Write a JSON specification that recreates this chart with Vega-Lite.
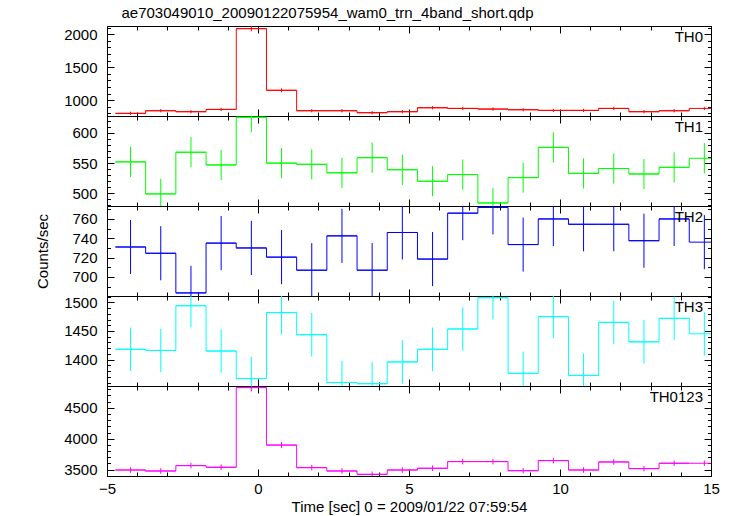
{
  "$schema": "https://vega.github.io/schema/vega-lite/v6.json",
  "padding": {"left": 34, "top": 6, "right": 5, "bottom": 5},
  "background": "white",
  "title": {"text": "ae703049010_20090122075954_wam0_trn_4band_short.qdp", "anchor": "start", "fontSize": 15, "fontWeight": "normal", "font": "Liberation Sans", "color": "black", "offset": 4, "dx": 87},
  "datasets": {
    "lc": [
      {"t0": -4.72, "t1": -3.72, "t": -4.22, "TH0": 800, "TH0_err": 25, "TH1": 552, "TH1_err": 25, "TH2": 731, "TH2_err": 28, "TH3": 1418, "TH3_err": 38, "TH0123": 3494, "TH0123_err": 45},
      {"t0": -3.72, "t1": -2.72, "t": -3.22, "TH0": 840, "TH0_err": 25, "TH1": 499, "TH1_err": 25, "TH2": 724.5, "TH2_err": 28, "TH3": 1416, "TH3_err": 38, "TH0123": 3478, "TH0123_err": 45},
      {"t0": -2.72, "t1": -1.72, "t": -2.22, "TH0": 825, "TH0_err": 25, "TH1": 568, "TH1_err": 25, "TH2": 683.5, "TH2_err": 28, "TH3": 1494, "TH3_err": 38, "TH0123": 3565, "TH0123_err": 45},
      {"t0": -1.72, "t1": -0.72, "t": -1.22, "TH0": 860, "TH0_err": 25, "TH1": 547, "TH1_err": 25, "TH2": 735, "TH2_err": 28, "TH3": 1415, "TH3_err": 38, "TH0123": 3538, "TH0123_err": 45},
      {"t0": -0.72, "t1": 0.28, "t": -0.22, "TH0": 2085, "TH0_err": 40, "TH1": 626, "TH1_err": 25, "TH2": 730, "TH2_err": 28, "TH3": 1367, "TH3_err": 38, "TH0123": 4826, "TH0123_err": 62},
      {"t0": 0.28, "t1": 1.28, "t": 0.78, "TH0": 1150, "TH0_err": 30, "TH1": 550, "TH1_err": 25, "TH2": 720.5, "TH2_err": 28, "TH3": 1482, "TH3_err": 38, "TH0123": 3897, "TH0123_err": 50},
      {"t0": 1.28, "t1": 2.28, "t": 1.78, "TH0": 840, "TH0_err": 25, "TH1": 548, "TH1_err": 25, "TH2": 707, "TH2_err": 28, "TH3": 1443.5, "TH3_err": 38, "TH0123": 3532, "TH0123_err": 45},
      {"t0": 2.28, "t1": 3.28, "t": 2.78, "TH0": 840, "TH0_err": 25, "TH1": 534, "TH1_err": 25, "TH2": 742.5, "TH2_err": 28, "TH3": 1360, "TH3_err": 38, "TH0123": 3478, "TH0123_err": 45},
      {"t0": 3.28, "t1": 4.28, "t": 3.78, "TH0": 810, "TH0_err": 25, "TH1": 559, "TH1_err": 25, "TH2": 707, "TH2_err": 28, "TH3": 1358, "TH3_err": 38, "TH0123": 3424, "TH0123_err": 45},
      {"t0": 4.28, "t1": 5.28, "t": 4.78, "TH0": 825, "TH0_err": 25, "TH1": 539, "TH1_err": 25, "TH2": 746, "TH2_err": 28, "TH3": 1396, "TH3_err": 38, "TH0123": 3494, "TH0123_err": 45},
      {"t0": 5.28, "t1": 6.28, "t": 5.78, "TH0": 885, "TH0_err": 25, "TH1": 520, "TH1_err": 25, "TH2": 718.5, "TH2_err": 28, "TH3": 1418, "TH3_err": 38, "TH0123": 3522, "TH0123_err": 45},
      {"t0": 6.28, "t1": 7.28, "t": 6.78, "TH0": 875, "TH0_err": 25, "TH1": 531, "TH1_err": 25, "TH2": 766, "TH2_err": 28, "TH3": 1453.5, "TH3_err": 38, "TH0123": 3630, "TH0123_err": 45},
      {"t0": 7.28, "t1": 8.28, "t": 7.78, "TH0": 865, "TH0_err": 25, "TH1": 484, "TH1_err": 25, "TH2": 772, "TH2_err": 28, "TH3": 1508, "TH3_err": 38, "TH0123": 3630, "TH0123_err": 45},
      {"t0": 8.28, "t1": 9.28, "t": 8.78, "TH0": 855, "TH0_err": 25, "TH1": 526, "TH1_err": 25, "TH2": 733.5, "TH2_err": 28, "TH3": 1376, "TH3_err": 38, "TH0123": 3483, "TH0123_err": 45},
      {"t0": 9.28, "t1": 10.28, "t": 9.78, "TH0": 845, "TH0_err": 25, "TH1": 576, "TH1_err": 25, "TH2": 760, "TH2_err": 28, "TH3": 1475, "TH3_err": 38, "TH0123": 3646, "TH0123_err": 45},
      {"t0": 10.28, "t1": 11.28, "t": 10.78, "TH0": 845, "TH0_err": 25, "TH1": 533, "TH1_err": 25, "TH2": 754.5, "TH2_err": 28, "TH3": 1372.5, "TH3_err": 38, "TH0123": 3494, "TH0123_err": 45},
      {"t0": 11.28, "t1": 12.28, "t": 11.78, "TH0": 875, "TH0_err": 25, "TH1": 541, "TH1_err": 25, "TH2": 754.5, "TH2_err": 28, "TH3": 1465, "TH3_err": 38, "TH0123": 3624, "TH0123_err": 45},
      {"t0": 12.28, "t1": 13.28, "t": 12.78, "TH0": 825, "TH0_err": 25, "TH1": 532, "TH1_err": 25, "TH2": 737.5, "TH2_err": 28, "TH3": 1431, "TH3_err": 38, "TH0123": 3516, "TH0123_err": 45},
      {"t0": 13.28, "t1": 14.28, "t": 13.78, "TH0": 840, "TH0_err": 25, "TH1": 543, "TH1_err": 25, "TH2": 760, "TH2_err": 28, "TH3": 1472, "TH3_err": 38, "TH0123": 3603, "TH0123_err": 45},
      {"t0": 14.28, "t1": 15.28, "t": 14.78, "TH0": 875, "TH0_err": 25, "TH1": 558, "TH1_err": 25, "TH2": 736, "TH2_err": 28, "TH3": 1445, "TH3_err": 38, "TH0123": 3603, "TH0123_err": 45}
    ]
  },
  "data": {"name": "lc"},
  "spacing": 0,
  "bounds": "flush",
  "vconcat": [
    {
      "width": 604, "height": 90,
      "layer": [
        {"mark": {"type": "line", "interpolate": "step-after", "color": "#ff0000", "strokeWidth": 1, "clip": true},
         "encoding": {
           "x": {"field": "t0", "type": "quantitative", "scale": {"domain": [-5, 15], "nice": false, "zero": false},
                 "axis": {"orient": "bottom", "values": [-5,-4,-3,-2,-1,0,1,2,3,4,5,6,7,8,9,10,11,12,13,14,15], "tickSize": {"condition": {"test": "datum.value % 5 === 0", "value": -7}, "value": -4}, "labels": false, "title": null}},
           "y": {"field": "TH0", "type": "quantitative", "scale": {"domain": [760, 2125], "nice": false, "zero": false},
                 "axis": {"orient": "left", "values": [800,900,1000,1100,1200,1300,1400,1500,1600,1700,1800,1900,2000,2100], "tickSize": {"condition": {"test": "datum.value % 500 === 0", "value": -7}, "value": -3.5}, "format": "d", "labelExpr": "datum.value % 500 === 0 ? datum.label : ''", "labelPadding": 17, "title": null}}
         }},
        {"mark": {"type": "rule", "color": "#ff0000", "strokeWidth": 1, "clip": true},
         "encoding": {
           "x": {"field": "t0", "type": "quantitative",
                 "axis": {"orient": "top", "values": [-5,-4,-3,-2,-1,0,1,2,3,4,5,6,7,8,9,10,11,12,13,14,15], "tickSize": {"condition": {"test": "datum.value % 5 === 0", "value": -7}, "value": -4}, "labels": false, "title": null}},
           "x2": {"field": "t1"},
           "y": {"field": "TH0", "type": "quantitative",
                 "axis": {"orient": "right", "values": [800,900,1000,1100,1200,1300,1400,1500,1600,1700,1800,1900,2000,2100], "tickSize": {"condition": {"test": "datum.value % 500 === 0", "value": -7}, "value": -3.5}, "labels": false, "title": null}}
         }},
        {"mark": {"type": "errorbar", "color": "#ff0000", "thickness": 1, "clip": true},
         "encoding": {
           "x": {"field": "t", "type": "quantitative", "axis": null},
           "y": {"field": "TH0", "type": "quantitative", "axis": null},
           "yError": {"field": "TH0_err"}
         }},
        {"data": {"values": [{}]},
         "mark": {"type": "text", "text": "TH0", "align": "right", "baseline": "top", "dx": -8, "dy": 4, "fontSize": 15, "font": "Liberation Sans", "color": "black"},
         "encoding": {"x": {"datum": 15, "type": "quantitative", "axis": null}, "y": {"datum": 2125, "type": "quantitative", "axis": null}}}
      ],
      "resolve": {"axis": {"x": "independent", "y": "independent"}}
    },
    {
      "width": 604, "height": 90,
      "layer": [
        {"mark": {"type": "line", "interpolate": "step-after", "color": "#00ff00", "strokeWidth": 1, "clip": true},
         "encoding": {
           "x": {"field": "t0", "type": "quantitative", "scale": {"domain": [-5, 15], "nice": false, "zero": false},
                 "axis": {"orient": "bottom", "values": [-5,-4,-3,-2,-1,0,1,2,3,4,5,6,7,8,9,10,11,12,13,14,15], "tickSize": {"condition": {"test": "datum.value % 5 === 0", "value": -7}, "value": -4}, "labels": false, "title": null}},
           "y": {"field": "TH1", "type": "quantitative", "scale": {"domain": [479, 628], "nice": false, "zero": false},
                 "axis": {"orient": "left", "values": [480,490,500,510,520,530,540,550,560,570,580,590,600,610,620], "tickSize": {"condition": {"test": "datum.value % 50 === 0", "value": -7}, "value": -3.5}, "format": "d", "labelExpr": "datum.value % 50 === 0 ? datum.label : ''", "labelPadding": 17, "title": null}}
         }},
        {"mark": {"type": "rule", "color": "#00ff00", "strokeWidth": 1, "clip": true},
         "encoding": {
           "x": {"field": "t0", "type": "quantitative",
                 "axis": {"orient": "top", "values": [-5,-4,-3,-2,-1,0,1,2,3,4,5,6,7,8,9,10,11,12,13,14,15], "tickSize": {"condition": {"test": "datum.value % 5 === 0", "value": -7}, "value": -4}, "labels": false, "title": null}},
           "x2": {"field": "t1"},
           "y": {"field": "TH1", "type": "quantitative",
                 "axis": {"orient": "right", "values": [480,490,500,510,520,530,540,550,560,570,580,590,600,610,620], "tickSize": {"condition": {"test": "datum.value % 50 === 0", "value": -7}, "value": -3.5}, "labels": false, "title": null}}
         }},
        {"mark": {"type": "errorbar", "color": "#00ff00", "thickness": 1, "clip": true},
         "encoding": {
           "x": {"field": "t", "type": "quantitative", "axis": null},
           "y": {"field": "TH1", "type": "quantitative", "axis": null},
           "yError": {"field": "TH1_err"}
         }},
        {"data": {"values": [{}]},
         "mark": {"type": "text", "text": "TH1", "align": "right", "baseline": "top", "dx": -8, "dy": 4, "fontSize": 15, "font": "Liberation Sans", "color": "black"},
         "encoding": {"x": {"datum": 15, "type": "quantitative", "axis": null}, "y": {"datum": 628, "type": "quantitative", "axis": null}}}
      ],
      "resolve": {"axis": {"x": "independent", "y": "independent"}}
    },
    {
      "width": 604, "height": 90,
      "layer": [
        {"mark": {"type": "line", "interpolate": "step-after", "color": "#0000ff", "strokeWidth": 1, "clip": true},
         "encoding": {
           "x": {"field": "t0", "type": "quantitative", "scale": {"domain": [-5, 15], "nice": false, "zero": false},
                 "axis": {"orient": "bottom", "values": [-5,-4,-3,-2,-1,0,1,2,3,4,5,6,7,8,9,10,11,12,13,14,15], "tickSize": {"condition": {"test": "datum.value % 5 === 0", "value": -7}, "value": -4}, "labels": false, "title": null}},
           "y": {"field": "TH2", "type": "quantitative", "scale": {"domain": [680.3, 773.4], "nice": false, "zero": false},
                 "axis": {"orient": "left", "values": [690,700,710,720,730,740,750,760,770], "tickSize": {"condition": {"test": "datum.value % 20 === 0", "value": -7}, "value": -3.5}, "format": "d", "labelExpr": "datum.value % 20 === 0 ? datum.label : ''", "labelPadding": 17, "title": "Counts/sec", "titleX": -65, "titleY": 45, "titleAngle": -90, "titleAlign": "center", "titleBaseline": "middle"}}
         }},
        {"mark": {"type": "rule", "color": "#0000ff", "strokeWidth": 1, "clip": true},
         "encoding": {
           "x": {"field": "t0", "type": "quantitative",
                 "axis": {"orient": "top", "values": [-5,-4,-3,-2,-1,0,1,2,3,4,5,6,7,8,9,10,11,12,13,14,15], "tickSize": {"condition": {"test": "datum.value % 5 === 0", "value": -7}, "value": -4}, "labels": false, "title": null}},
           "x2": {"field": "t1"},
           "y": {"field": "TH2", "type": "quantitative",
                 "axis": {"orient": "right", "values": [690,700,710,720,730,740,750,760,770], "tickSize": {"condition": {"test": "datum.value % 20 === 0", "value": -7}, "value": -3.5}, "labels": false, "title": null}}
         }},
        {"mark": {"type": "errorbar", "color": "#0000ff", "thickness": 1, "clip": true},
         "encoding": {
           "x": {"field": "t", "type": "quantitative", "axis": null},
           "y": {"field": "TH2", "type": "quantitative", "axis": null},
           "yError": {"field": "TH2_err"}
         }},
        {"data": {"values": [{}]},
         "mark": {"type": "text", "text": "TH2", "align": "right", "baseline": "top", "dx": -8, "dy": 4, "fontSize": 15, "font": "Liberation Sans", "color": "black"},
         "encoding": {"x": {"datum": 15, "type": "quantitative", "axis": null}, "y": {"datum": 773.4, "type": "quantitative", "axis": null}}}
      ],
      "resolve": {"axis": {"x": "independent", "y": "independent"}}
    },
    {
      "width": 604, "height": 90,
      "layer": [
        {"mark": {"type": "line", "interpolate": "step-after", "color": "#00ffff", "strokeWidth": 1, "clip": true},
         "encoding": {
           "x": {"field": "t0", "type": "quantitative", "scale": {"domain": [-5, 15], "nice": false, "zero": false},
                 "axis": {"orient": "bottom", "values": [-5,-4,-3,-2,-1,0,1,2,3,4,5,6,7,8,9,10,11,12,13,14,15], "tickSize": {"condition": {"test": "datum.value % 5 === 0", "value": -7}, "value": -4}, "labels": false, "title": null}},
           "y": {"field": "TH3", "type": "quantitative", "scale": {"domain": [1354, 1511], "nice": false, "zero": false},
                 "axis": {"orient": "left", "values": [1360,1370,1380,1390,1400,1410,1420,1430,1440,1450,1460,1470,1480,1490,1500,1510], "tickSize": {"condition": {"test": "datum.value % 50 === 0", "value": -7}, "value": -3.5}, "format": "d", "labelExpr": "datum.value % 50 === 0 ? datum.label : ''", "labelPadding": 17, "title": null}}
         }},
        {"mark": {"type": "rule", "color": "#00ffff", "strokeWidth": 1, "clip": true},
         "encoding": {
           "x": {"field": "t0", "type": "quantitative",
                 "axis": {"orient": "top", "values": [-5,-4,-3,-2,-1,0,1,2,3,4,5,6,7,8,9,10,11,12,13,14,15], "tickSize": {"condition": {"test": "datum.value % 5 === 0", "value": -7}, "value": -4}, "labels": false, "title": null}},
           "x2": {"field": "t1"},
           "y": {"field": "TH3", "type": "quantitative",
                 "axis": {"orient": "right", "values": [1360,1370,1380,1390,1400,1410,1420,1430,1440,1450,1460,1470,1480,1490,1500,1510], "tickSize": {"condition": {"test": "datum.value % 50 === 0", "value": -7}, "value": -3.5}, "labels": false, "title": null}}
         }},
        {"mark": {"type": "errorbar", "color": "#00ffff", "thickness": 1, "clip": true},
         "encoding": {
           "x": {"field": "t", "type": "quantitative", "axis": null},
           "y": {"field": "TH3", "type": "quantitative", "axis": null},
           "yError": {"field": "TH3_err"}
         }},
        {"data": {"values": [{}]},
         "mark": {"type": "text", "text": "TH3", "align": "right", "baseline": "top", "dx": -8, "dy": 4, "fontSize": 15, "font": "Liberation Sans", "color": "black"},
         "encoding": {"x": {"datum": 15, "type": "quantitative", "axis": null}, "y": {"datum": 1511, "type": "quantitative", "axis": null}}}
      ],
      "resolve": {"axis": {"x": "independent", "y": "independent"}}
    },
    {
      "width": 604, "height": 90,
      "layer": [
        {"mark": {"type": "line", "interpolate": "step-after", "color": "#ff00ff", "strokeWidth": 1, "clip": true},
         "encoding": {
           "x": {"field": "t0", "type": "quantitative", "scale": {"domain": [-5, 15], "nice": false, "zero": false},
                 "axis": {"orient": "bottom", "values": [-5,-4,-3,-2,-1,0,1,2,3,4,5,6,7,8,9,10,11,12,13,14,15], "tickSize": {"condition": {"test": "datum.value % 5 === 0", "value": -7}, "value": -4}, "format": "d", "labelFlush": false, "labelExpr": "datum.value % 5 === 0 ? datum.label : ''", "labelPadding": 12, "title": "Time [sec] 0 = 2009/01/22 07:59:54", "titlePadding": 3}},
           "y": {"field": "TH0123", "type": "quantitative", "scale": {"domain": [3397, 4852], "nice": false, "zero": false},
                 "axis": {"orient": "left", "values": [3400,3500,3600,3700,3800,3900,4000,4100,4200,4300,4400,4500,4600,4700,4800], "tickSize": {"condition": {"test": "datum.value % 500 === 0", "value": -7}, "value": -3.5}, "format": "d", "labelExpr": "datum.value % 500 === 0 ? datum.label : ''", "labelPadding": 17, "title": null}}
         }},
        {"mark": {"type": "rule", "color": "#ff00ff", "strokeWidth": 1, "clip": true},
         "encoding": {
           "x": {"field": "t0", "type": "quantitative",
                 "axis": {"orient": "top", "values": [-5,-4,-3,-2,-1,0,1,2,3,4,5,6,7,8,9,10,11,12,13,14,15], "tickSize": {"condition": {"test": "datum.value % 5 === 0", "value": -7}, "value": -4}, "labels": false, "title": null}},
           "x2": {"field": "t1"},
           "y": {"field": "TH0123", "type": "quantitative",
                 "axis": {"orient": "right", "values": [3400,3500,3600,3700,3800,3900,4000,4100,4200,4300,4400,4500,4600,4700,4800], "tickSize": {"condition": {"test": "datum.value % 500 === 0", "value": -7}, "value": -3.5}, "labels": false, "title": null}}
         }},
        {"mark": {"type": "errorbar", "color": "#ff00ff", "thickness": 1, "clip": true},
         "encoding": {
           "x": {"field": "t", "type": "quantitative", "axis": null},
           "y": {"field": "TH0123", "type": "quantitative", "axis": null},
           "yError": {"field": "TH0123_err"}
         }},
        {"data": {"values": [{}]},
         "mark": {"type": "text", "text": "TH0123", "align": "right", "baseline": "top", "dx": -8, "dy": 4, "fontSize": 15, "font": "Liberation Sans", "color": "black"},
         "encoding": {"x": {"datum": 15, "type": "quantitative", "axis": null}, "y": {"datum": 4852, "type": "quantitative", "axis": null}}}
      ],
      "resolve": {"axis": {"x": "independent", "y": "independent"}}
    }
  ],
  "config": {
    "view": {"stroke": "black", "strokeWidth": 1},
    "axis": {"labelFont": "Liberation Sans", "labelFontSize": 15, "labelColor": "black", "titleFont": "Liberation Sans", "titleFontSize": 15, "titleFontWeight": "normal", "titleColor": "black", "tickColor": "black", "domain": false, "grid": false, "labelFlush": false}
  }
}
